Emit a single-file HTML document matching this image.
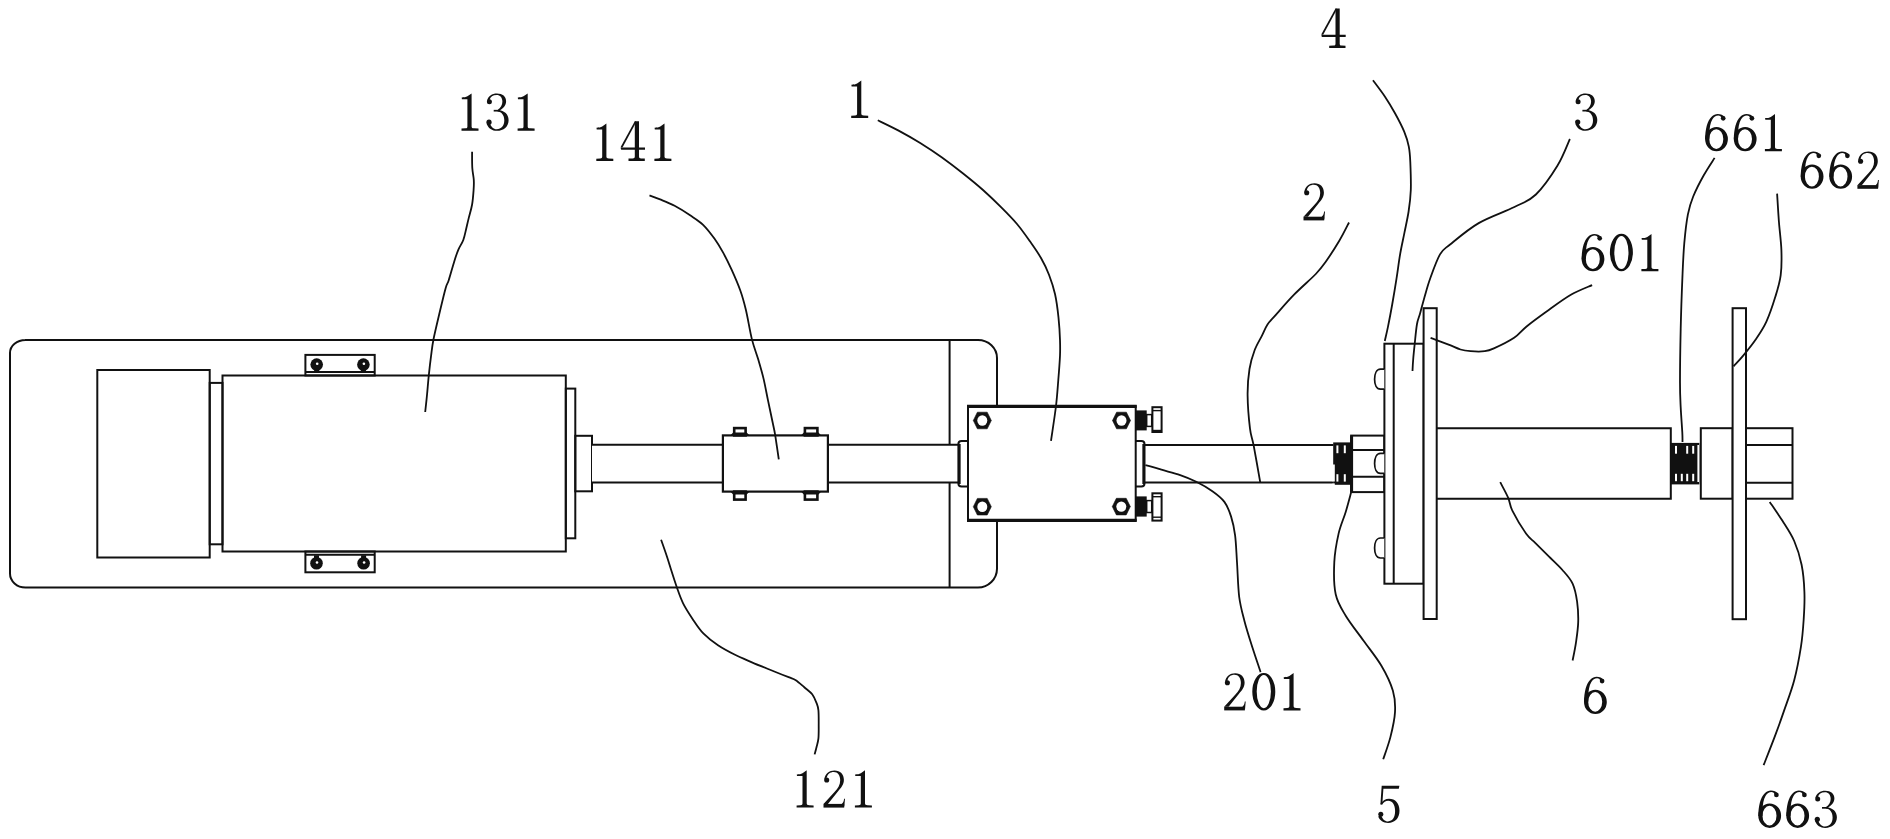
<!DOCTYPE html>
<html><head><meta charset="utf-8"><style>
html,body{margin:0;padding:0;background:#fff;overflow:hidden;width:1890px;height:839px;}
svg{display:block;} #w{width:1890px;height:839px;}
text{font-family:"Liberation Serif",serif;font-size:56px;fill:#111;stroke:#fff;stroke-width:0.6px;}
</style></head><body>
<div id="w"><svg width="1890" height="839" viewBox="0 0 1890 839">
<rect width="1890" height="839" fill="#fff"/>
<path d="M25,340 H978 A19,18 0 0 1 997,358 V568.7 A19,19 0 0 1 978,587.5 H25.5 A15.5,14 0 0 1 10,573.5 V353 A15.5,13 0 0 1 25.5,340 Z" stroke="#111" fill="none" stroke-width="2"/>
<line x1="949.6" y1="340" x2="949.6" y2="587.5" stroke="#111" stroke-width="2"/>
<rect x="97.3" y="370" width="112.4" height="187.5" stroke="#111" fill="none" stroke-width="2"/>
<rect x="209.7" y="382.9" width="12.8" height="161.4" stroke="#111" fill="none" stroke-width="2"/>
<rect x="222.5" y="375.5" width="343.3" height="176" stroke="#111" fill="none" stroke-width="2"/>
<rect x="305.4" y="354.9" width="69.3" height="20.6" stroke="#111" fill="none" stroke-width="2"/>
<line x1="305.4" y1="372" x2="374.7" y2="372" stroke="#111" stroke-width="2"/>
<rect x="305.4" y="551.5" width="69.3" height="20.8" stroke="#111" fill="none" stroke-width="2"/>
<line x1="305.4" y1="554.8" x2="374.7" y2="554.8" stroke="#111" stroke-width="2"/>
<rect x="314.2" y="368.6" width="5" height="4" fill="#111"/><circle cx="316.7" cy="364.6" r="6.3" fill="#111"/><circle cx="317.2" cy="363.8" r="1.3" fill="#fff"/>
<rect x="360.9" y="368.6" width="5" height="4" fill="#111"/><circle cx="363.4" cy="364.6" r="6.3" fill="#111"/><circle cx="363.9" cy="363.8" r="1.3" fill="#fff"/>
<rect x="314.0" y="555.3" width="5" height="4" fill="#111"/><circle cx="316.5" cy="563.3" r="6.3" fill="#111"/><circle cx="317.0" cy="562.5" r="1.3" fill="#fff"/>
<rect x="361.1" y="555.3" width="5" height="4" fill="#111"/><circle cx="363.6" cy="563.3" r="6.3" fill="#111"/><circle cx="364.1" cy="562.5" r="1.3" fill="#fff"/>
<rect x="565.8" y="388.6" width="9.5" height="149.7" stroke="#111" fill="none" stroke-width="2"/>
<rect x="575.3" y="435.8" width="16.7" height="55.5" stroke="#111" fill="none" stroke-width="2"/>
<rect x="592" y="444.8" width="366.4" height="37.7" fill="#fff"/>
<line x1="592" y1="444.8" x2="722.9" y2="444.8" stroke="#111" stroke-width="2"/>
<line x1="592" y1="482.5" x2="722.9" y2="482.5" stroke="#111" stroke-width="2"/>
<line x1="827.9" y1="444.8" x2="958.4" y2="444.8" stroke="#111" stroke-width="2"/>
<line x1="827.9" y1="482.5" x2="958.4" y2="482.5" stroke="#111" stroke-width="2"/>
<rect x="722.9" y="435.4" width="105" height="56.2" fill="#fff" stroke="#111" stroke-width="2.2"/>
<rect x="734.2" y="428.1" width="11.399999999999977" height="7.2999999999999545" fill="#fff" stroke="#111" stroke-width="2.6"/><path d="M730.2,435.4 L733.2,432.4 L746.6,432.4 L749.6,435.4 Z" fill="#111"/>
<rect x="804.9" y="428.1" width="12.5" height="7.2999999999999545" fill="#fff" stroke="#111" stroke-width="2.6"/><path d="M800.9,435.4 L803.9,432.4 L818.4,432.4 L821.4,435.4 Z" fill="#111"/>
<rect x="734.2" y="491.6" width="11.399999999999977" height="8.0" fill="#fff" stroke="#111" stroke-width="2.6"/><path d="M730.2,491.6 L733.2,494.6 L746.6,494.6 L749.6,491.6 Z" fill="#111"/>
<rect x="804.9" y="491.6" width="12.5" height="8.0" fill="#fff" stroke="#111" stroke-width="2.6"/><path d="M800.9,491.6 L803.9,494.6 L818.4,494.6 L821.4,491.6 Z" fill="#111"/>
<path d="M968,441 H961.5 Q958.4,441 958.4,444 V483.5 Q958.4,486.5 961.5,486.5 H968" fill="#fff" stroke="#111" stroke-width="2"/>
<line x1="959.4" y1="444" x2="959.4" y2="484" stroke="#111" stroke-width="2.5"/>
<path d="M1135.7,441 H1141.4 Q1144.5,441 1144.5,444 V483.5 Q1144.5,486.5 1141.4,486.5 H1135.7" fill="#fff" stroke="#111" stroke-width="2"/>
<line x1="1143.6" y1="444" x2="1143.6" y2="484" stroke="#111" stroke-width="2.5"/>
<rect x="968" y="406.2" width="167.7" height="114.3" fill="#fff" stroke="#111" stroke-width="2"/>
<line x1="967" y1="406.4" x2="1136.7" y2="406.4" stroke="#111" stroke-width="3.2"/>
<line x1="967" y1="520.3" x2="1136.7" y2="520.3" stroke="#111" stroke-width="3.2"/>
<polygon points="991.3,420.5 987.2,412.2 977.4,412.2 973.3,420.5 977.4,428.8 987.2,428.8" fill="#111" stroke="#111" stroke-width="0.6" stroke-linejoin="round"/><ellipse cx="982.3" cy="420.5" rx="5.0" ry="5.2" fill="#fff"/>
<polygon points="1130.5,420.5 1126.4,412.2 1116.6,412.2 1112.5,420.5 1116.6,428.8 1126.4,428.8" fill="#111" stroke="#111" stroke-width="0.6" stroke-linejoin="round"/><ellipse cx="1121.5" cy="420.5" rx="5.0" ry="5.2" fill="#fff"/>
<polygon points="991.3,506.7 987.2,498.4 977.4,498.4 973.3,506.7 977.4,515.0 987.2,515.0" fill="#111" stroke="#111" stroke-width="0.6" stroke-linejoin="round"/><ellipse cx="982.3" cy="506.7" rx="5.0" ry="5.2" fill="#fff"/>
<polygon points="1130.3,506.6 1126.2,498.3 1116.4,498.3 1112.3,506.6 1116.4,514.9 1126.2,514.9" fill="#111" stroke="#111" stroke-width="0.6" stroke-linejoin="round"/><ellipse cx="1121.3" cy="506.6" rx="5.0" ry="5.2" fill="#fff"/>
<rect x="1135.5" y="410.4" width="11.2" height="20.0" fill="#111"/>
<rect x="1146.7" y="414.6" width="5" height="11.799999999999955" fill="#fff" stroke="#111" stroke-width="1.5"/>
<rect x="1152.4" y="407.2" width="9.2" height="24.80000000000001" fill="#fff" stroke="#111" stroke-width="2"/>
<line x1="1152.4" y1="410.59999999999997" x2="1161.6" y2="410.59999999999997" stroke="#111" stroke-width="1.4"/>
<line x1="1152.4" y1="431.0" x2="1161.6" y2="431.0" stroke="#111" stroke-width="2.4"/>
<rect x="1135.5" y="496.4" width="11.2" height="20.200000000000045" fill="#111"/>
<rect x="1146.7" y="500.6" width="5" height="11.899999999999977" fill="#fff" stroke="#111" stroke-width="1.5"/>
<rect x="1152.4" y="493.3" width="9.2" height="27.30000000000001" fill="#fff" stroke="#111" stroke-width="2"/>
<line x1="1152.4" y1="496.7" x2="1161.6" y2="496.7" stroke="#111" stroke-width="1.4"/>
<line x1="1152.4" y1="517.2" x2="1161.6" y2="517.2" stroke="#111" stroke-width="1.4"/>
<line x1="1144.5" y1="445" x2="1333.4" y2="445" stroke="#111" stroke-width="2"/>
<line x1="1144.5" y1="482.4" x2="1333.4" y2="482.4" stroke="#111" stroke-width="2"/>
<rect x="1333.2" y="442.4" width="17.799999999999955" height="42.400000000000034" fill="#111"/><rect x="1336.4" y="445.4" width="2" height="7.8" fill="#fff"/><rect x="1343.8" y="445.4" width="2" height="7.8" fill="#fff"/><rect x="1336.4" y="474.20000000000005" width="2" height="7.4" fill="#fff"/><rect x="1343.8" y="474.20000000000005" width="2" height="7.4" fill="#fff"/>
<rect x="1332.6" y="464.5" width="2.2" height="17.0" fill="#fff"/>
<rect x="1332.6" y="483.4" width="2.2" height="2.0" fill="#fff"/>
<rect x="1351.1" y="435.6" width="33.2" height="56.5" fill="#fff" stroke="#111" stroke-width="2"/>
<line x1="1351.6" y1="436" x2="1351.6" y2="492" stroke="#111" stroke-width="3"/>
<line x1="1351.1" y1="450.1" x2="1384.3" y2="450.1" stroke="#111" stroke-width="2"/>
<line x1="1351.1" y1="476.8" x2="1384.3" y2="476.8" stroke="#111" stroke-width="2"/>
<rect x="1384.4" y="343.7" width="39.2" height="240" fill="#fff" stroke="#111" stroke-width="2"/>
<line x1="1393.7" y1="343.9" x2="1393.7" y2="583.7" stroke="#111" stroke-width="2"/>
<path d="M1384.3,369.2 H1380.5 C1376.3,369.2 1374.6,374.2 1374.6,379.2 C1374.6,384.2 1376.3,389.2 1380.5,389.2 H1384.3" fill="#fff" stroke="#111" stroke-width="1.7"/>
<path d="M1384.3,453.4 H1380.5 C1376.3,453.4 1374.6,458.4 1374.6,463.4 C1374.6,468.4 1376.3,473.4 1380.5,473.4 H1384.3" fill="#fff" stroke="#111" stroke-width="1.7"/>
<path d="M1384.3,538 H1380.5 C1376.3,538 1374.6,543 1374.6,548 C1374.6,553 1376.3,558 1380.5,558 H1384.3" fill="#fff" stroke="#111" stroke-width="1.7"/>
<rect x="1423.6" y="308.2" width="13.1" height="310.8" fill="#fff" stroke="#111" stroke-width="2"/>
<path d="M1437,428.2 H1670.8 V498.7 H1437" fill="none" stroke="#111" stroke-width="2"/>
<rect x="1670.8" y="442.9" width="28.600000000000136" height="41.5" fill="#111"/><rect x="1675" y="445.9" width="2" height="7.8" fill="#fff"/><rect x="1686.2" y="445.9" width="2" height="7.8" fill="#fff"/><rect x="1692.2" y="445.9" width="2" height="7.8" fill="#fff"/><rect x="1675" y="473.8" width="2" height="7.4" fill="#fff"/><rect x="1680.8" y="473.8" width="2" height="7.4" fill="#fff"/><rect x="1686.2" y="473.8" width="2" height="7.4" fill="#fff"/><rect x="1692.2" y="473.8" width="2" height="7.4" fill="#fff"/>
<rect x="1697.4" y="445" width="1.6" height="37" fill="#fff"/>
<rect x="1700.8" y="428.2" width="31.8" height="70.5" fill="#fff" stroke="#111" stroke-width="2"/>
<rect x="1732.6" y="308.2" width="13.4" height="311" fill="#fff" stroke="#111" stroke-width="2"/>
<rect x="1746" y="428.2" width="46.5" height="70.5" fill="#fff" stroke="#111" stroke-width="2"/>
<line x1="1746" y1="445.1" x2="1792.5" y2="445.1" stroke="#111" stroke-width="2"/>
<line x1="1746" y1="482.7" x2="1792.5" y2="482.7" stroke="#111" stroke-width="2"/>
<path d="M472.1,151.8 C472.1,154.5 472.0,163.3 472.3,168.0 C472.6,172.7 473.6,176.3 473.8,180.0 C474.0,183.7 473.9,185.9 473.6,190.0 C473.3,194.1 472.9,199.9 472.1,204.5 C471.3,209.1 469.9,213.4 468.9,217.4 C467.9,221.4 467.1,224.9 466.2,228.7 C465.3,232.5 464.6,236.5 463.3,240.0 C462.0,243.5 459.9,246.1 458.4,249.6 C456.9,253.1 456.0,255.8 454.4,260.9 C452.8,266.0 450.2,275.5 448.8,280.0 C447.4,284.5 447.1,283.0 445.7,287.9 C444.3,292.8 442.4,300.8 440.4,309.3 C438.4,317.8 435.2,331.1 433.6,338.8 C432.1,346.5 431.9,349.6 431.1,355.7 C430.3,361.8 429.5,368.8 428.8,375.4 C428.1,381.9 427.6,388.9 427.0,395.0 C426.4,401.1 425.5,409.2 425.2,412.0" fill="none" stroke="#111" stroke-width="1.8"/>
<path d="M649.5,195.4 C651.4,196.1 656.6,198.0 660.8,199.7 C665.0,201.4 669.7,203.2 674.6,205.8 C679.5,208.4 685.4,212.1 690.1,215.3 C694.9,218.5 699.1,220.9 703.1,224.8 C707.1,228.7 711.1,234.0 714.4,238.6 C717.7,243.2 720.1,247.2 723.0,252.4 C725.9,257.6 728.7,263.3 731.6,269.7 C734.5,276.1 737.9,283.9 740.3,290.5 C742.7,297.1 743.8,301.3 745.8,309.5 C747.8,317.7 749.9,331.3 752.0,339.6 C754.1,347.9 756.3,352.8 758.2,359.3 C760.1,365.9 762.0,372.0 763.6,378.9 C765.2,385.8 766.5,393.2 768.0,400.4 C769.5,407.5 771.3,416.0 772.5,421.8 C773.7,427.6 774.2,428.9 775.2,435.2 C776.2,441.4 778.2,455.3 778.8,459.3" fill="none" stroke="#111" stroke-width="1.8"/>
<path d="M661.1,539.8 C662.1,542.6 665.3,551.6 667.0,556.8 C668.7,562.0 669.9,566.0 671.5,571.1 C673.1,576.2 674.9,581.8 676.8,587.2 C678.7,592.6 680.4,597.9 683.1,603.3 C685.8,608.7 689.5,614.3 692.9,619.4 C696.3,624.5 699.4,629.4 703.6,633.7 C707.8,638.0 712.9,641.9 718.0,645.3 C723.1,648.7 728.4,651.5 734.0,654.3 C739.6,657.1 745.2,659.4 751.9,662.3 C758.6,665.2 768.2,669.0 774.3,671.5 C780.4,674.0 785.0,675.8 788.6,677.2 C792.2,678.7 793.2,678.5 795.8,680.2 C798.4,681.9 801.6,684.9 804.3,687.2 C807.0,689.6 810.2,691.7 812.2,694.3 C814.2,696.9 815.5,700.3 816.5,702.9 C817.5,705.5 818.0,706.3 818.4,710.1 C818.8,713.9 818.7,721.0 818.7,725.8 C818.7,730.6 818.8,735.1 818.4,738.7 C818.0,742.3 817.1,744.7 816.5,747.3 C815.9,749.9 814.9,753.2 814.6,754.4" fill="none" stroke="#111" stroke-width="1.8"/>
<path d="M877.8,120.3 C881.3,122.0 891.5,126.8 898.6,130.6 C905.7,134.4 913.0,138.5 920.2,143.0 C927.4,147.5 934.9,152.4 942.0,157.5 C949.1,162.6 956.3,168.1 963.1,173.5 C969.9,178.9 976.6,184.3 983.0,190.0 C989.4,195.7 995.6,201.7 1001.3,207.4 C1007.0,213.1 1012.2,218.3 1017.0,224.0 C1021.8,229.7 1025.9,235.6 1029.9,241.3 C1033.9,247.0 1037.8,252.4 1041.0,258.0 C1044.2,263.6 1046.7,268.7 1049.0,274.7 C1051.3,280.7 1053.4,286.9 1055.0,294.0 C1056.6,301.1 1057.7,309.9 1058.5,317.6 C1059.3,325.3 1059.8,333.6 1060.0,340.0 C1060.2,346.4 1060.3,349.1 1060.0,355.8 C1059.7,362.5 1059.0,371.6 1058.3,380.0 C1057.6,388.4 1057.2,395.9 1056.0,406.0 C1054.8,416.1 1051.8,435.0 1051.0,440.8" fill="none" stroke="#111" stroke-width="1.8"/>
<path d="M1349.0,222.5 C1347.4,225.6 1343.2,234.2 1339.3,240.8 C1335.4,247.4 1329.3,256.7 1325.4,262.2 C1321.5,267.7 1321.0,268.6 1315.8,274.0 C1310.6,279.4 1301.3,287.2 1294.3,294.4 C1287.3,301.5 1278.5,311.9 1274.0,316.9 C1269.5,321.9 1269.5,321.4 1267.5,324.4 C1265.5,327.4 1264.3,330.8 1262.2,335.1 C1260.1,339.4 1256.8,344.4 1254.7,350.0 C1252.6,355.6 1250.7,361.5 1249.5,369.0 C1248.3,376.5 1247.5,385.3 1247.6,395.2 C1247.7,405.1 1249.0,420.3 1250.0,428.6 C1251.0,436.9 1251.9,436.3 1253.6,445.2 C1255.3,454.1 1259.1,476.0 1260.2,482.1" fill="none" stroke="#111" stroke-width="1.8"/>
<path d="M1145.4,465.2 C1148.1,465.9 1155.6,468.0 1161.4,469.7 C1167.2,471.4 1174.4,473.1 1180.2,475.1 C1186.0,477.1 1190.9,479.1 1196.3,481.8 C1201.7,484.5 1207.7,487.9 1212.4,491.2 C1217.1,494.5 1221.3,497.7 1224.4,501.9 C1227.5,506.1 1229.3,511.0 1231.1,516.6 C1232.9,522.2 1234.1,527.8 1235.1,535.4 C1236.1,543.0 1236.3,551.9 1237.0,562.2 C1237.7,572.5 1238.0,587.2 1239.2,597.0 C1240.5,606.8 1242.3,612.7 1244.5,621.2 C1246.7,629.7 1249.9,639.5 1252.6,648.0 C1255.3,656.5 1259.3,668.1 1260.6,672.1" fill="none" stroke="#111" stroke-width="1.8"/>
<path d="M1373.0,80.3 C1375.0,83.0 1381.3,91.2 1385.0,96.7 C1388.7,102.2 1391.8,107.5 1395.0,113.3 C1398.2,119.1 1401.9,126.1 1404.2,131.7 C1406.5,137.3 1407.8,141.6 1408.8,146.7 C1409.8,151.8 1410.0,154.8 1410.3,162.0 C1410.6,169.2 1411.1,181.8 1410.8,190.0 C1410.5,198.2 1409.7,204.3 1408.6,211.5 C1407.5,218.7 1405.8,225.8 1404.4,232.9 C1403.0,240.1 1401.4,246.8 1400.1,254.4 C1398.8,262.0 1397.8,270.3 1396.5,278.7 C1395.2,287.1 1393.6,296.6 1392.2,304.5 C1390.8,312.4 1389.3,320.1 1388.1,326.2 C1386.9,332.3 1385.3,338.5 1384.8,341.0" fill="none" stroke="#111" stroke-width="1.8"/>
<path d="M1569.9,139.0 C1567.8,143.5 1563.1,156.6 1557.4,165.8 C1551.7,175.1 1543.1,187.6 1535.9,194.5 C1528.7,201.4 1523.9,202.2 1514.4,207.0 C1504.9,211.8 1489.4,216.8 1478.7,223.1 C1468.0,229.3 1456.5,239.3 1450.1,244.5 C1443.6,249.7 1443.3,248.7 1440.0,254.4 C1436.7,260.1 1432.7,271.5 1430.1,278.7 C1427.5,285.9 1426.1,291.7 1424.4,297.4 C1422.8,303.1 1421.4,308.7 1420.2,313.1 C1419.0,317.5 1417.9,319.0 1417.0,324.0 C1416.1,329.0 1415.4,337.3 1414.8,343.0 C1414.2,348.7 1413.7,353.3 1413.3,358.0 C1412.9,362.7 1412.6,368.8 1412.5,371.0" fill="none" stroke="#111" stroke-width="1.8"/>
<path d="M1430.6,337.8 C1431.7,338.2 1434.1,339.1 1437.2,340.3 C1440.3,341.5 1445.4,343.4 1449.3,344.9 C1453.2,346.4 1457.0,348.4 1460.5,349.5 C1464.0,350.6 1466.5,350.9 1470.6,351.2 C1474.6,351.5 1480.9,351.7 1484.8,351.2 C1488.7,350.7 1489.0,350.6 1493.9,348.4 C1498.8,346.2 1508.7,341.4 1514.1,337.8 C1519.5,334.2 1520.9,331.1 1526.3,326.7 C1531.7,322.3 1539.2,316.8 1546.6,311.5 C1554.0,306.2 1563.3,299.2 1570.9,294.8 C1578.5,290.4 1588.6,286.7 1592.1,285.1" fill="none" stroke="#111" stroke-width="1.8"/>
<path d="M1714.6,157.9 C1712.8,160.8 1707.5,168.6 1703.9,175.0 C1700.3,181.4 1695.9,189.9 1693.2,196.5 C1690.5,203.1 1689.4,206.7 1687.9,214.4 C1686.4,222.2 1685.2,232.9 1684.3,243.0 C1683.4,253.1 1683.1,260.8 1682.5,275.1 C1681.9,289.4 1681.1,310.9 1680.7,328.8 C1680.3,346.7 1680.0,369.3 1680.0,382.4 C1680.0,395.5 1680.3,399.1 1680.7,407.4 C1681.1,415.7 1682.0,426.6 1682.3,432.4 C1682.6,438.2 1682.5,440.4 1682.5,442.0" fill="none" stroke="#111" stroke-width="1.8"/>
<path d="M1777.1,193.6 C1777.4,198.2 1778.2,212.1 1778.9,221.5 C1779.6,230.9 1781.1,241.2 1781.4,250.1 C1781.7,259.0 1781.7,267.4 1780.7,275.1 C1779.7,282.9 1777.8,288.9 1775.4,296.6 C1773.0,304.4 1769.7,314.5 1766.4,321.6 C1763.1,328.8 1759.6,333.8 1755.7,339.5 C1751.8,345.2 1746.9,351.1 1743.2,355.6 C1739.5,360.1 1735.2,364.5 1733.6,366.3" fill="none" stroke="#111" stroke-width="1.8"/>
<path d="M1351.1,492.5 C1350.2,495.8 1347.8,505.1 1345.7,512.0 C1343.6,518.9 1340.5,525.2 1338.6,533.6 C1336.7,542.0 1334.8,552.0 1334.3,562.1 C1333.8,572.2 1333.8,585.4 1335.7,594.3 C1337.6,603.2 1341.1,608.0 1345.7,615.7 C1350.3,623.4 1357.6,632.4 1363.6,640.7 C1369.5,649.0 1376.5,657.4 1381.4,665.7 C1386.3,674.0 1390.6,683.0 1392.9,690.7 C1395.2,698.4 1395.4,704.4 1395.0,712.1 C1394.6,719.8 1392.4,729.2 1390.4,737.1 C1388.4,745.0 1384.4,755.6 1383.2,759.3" fill="none" stroke="#111" stroke-width="1.8"/>
<path d="M1500.2,482.2 C1501.5,484.8 1506.0,492.8 1508.1,497.6 C1510.2,502.4 1509.6,505.2 1512.6,511.2 C1515.6,517.2 1522.4,528.5 1526.2,533.8 C1530.0,539.1 1531.4,539.1 1535.2,542.9 C1539.0,546.7 1544.3,551.9 1548.8,556.4 C1553.3,560.9 1558.4,565.5 1562.4,570.0 C1566.4,574.5 1570.1,578.3 1572.6,583.6 C1575.0,588.9 1576.2,595.3 1577.1,601.7 C1578.0,608.1 1578.4,615.3 1578.2,622.1 C1578.0,628.9 1576.9,636.0 1576.0,642.4 C1575.1,648.8 1573.2,657.5 1572.6,660.5" fill="none" stroke="#111" stroke-width="1.8"/>
<path d="M1769.7,501.9 C1771.8,505.0 1778.2,514.1 1782.3,520.6 C1786.4,527.1 1791.0,533.6 1794.2,541.0 C1797.4,548.4 1799.9,556.3 1801.6,564.8 C1803.3,573.3 1804.1,582.8 1804.4,591.9 C1804.8,601.0 1804.3,610.0 1803.7,619.1 C1803.1,628.2 1802.6,636.1 1801.0,646.3 C1799.4,656.5 1797.0,669.5 1794.2,680.3 C1791.4,691.1 1787.1,701.8 1784.0,710.9 C1780.9,720.0 1778.9,725.5 1775.5,734.6 C1772.1,743.7 1765.6,760.1 1763.6,765.2" fill="none" stroke="#111" stroke-width="1.8"/>
<defs><g id="d1"><path d="M5.9,-34.4 L10.1,-37.3 L10.1,-4.3 C10.1,-3 10.8,-2.5 12.6,-2.4 L17,-2.2 L17,0 L0,0 L0,-2.2 L3.9,-2.4 C5.4,-2.5 5.9,-3 5.9,-4.3 L5.9,-31.5 L0.4,-31.5 L0.2,-33.2 C2.6,-33.3 4.4,-33.5 5.9,-34.4 Z"/></g><g id="d4"><path d="M14.1,-39.6 L18.3,-39.6 L18.3,-4.4 C18.3,-3 18.9,-2.6 20.4,-2.5 L24.1,-2.3 L24.1,0 L7.8,0 L7.8,-2.3 L11.9,-2.5 C13.5,-2.6 14.1,-3 14.1,-4.4 Z"/><path d="M14.1,-39.6 L15.2,-39.6 L14.1,-36.2 L1.8,-13.3 L0.1,-13.3 L0.1,-14.1 Z"/><path d="M0.1,-13.3 L24.3,-13.3 L24.3,-11.1 L0.6,-11.1 L0.1,-11.8 Z"/></g><g id="d0"><path fill-rule="evenodd" d="M11.5,-37.5 A11.5,18.75 0 1 0 11.5,0 A11.5,18.75 0 1 0 11.5,-37.5 Z M11.5,-35.4 A7.1,16.6 0 1 1 11.5,-2.2 A7.1,16.6 0 1 1 11.5,-35.4 Z"/></g><g id="d6"><path fill-rule="evenodd" d="M11.4,-24.4 A11.4,12.2 0 1 0 11.4,0 A11.4,12.2 0 1 0 11.4,-24.4 Z M11.2,-22.1 A7.0,9.85 0 1 1 11.2,-2.4 A7.0,9.85 0 1 1 11.2,-22.1 Z"/><path d="M0.05,-12 C0.05,-22 2.2,-30.5 6.5,-34.6 C8.4,-36.4 10.4,-37.4 12.6,-37.4 C15.6,-37.4 18.0,-36.6 19.6,-34.2 L16.4,-33.6 C15.6,-35.1 14.6,-35.8 13.2,-35.8 C10.8,-35.8 8.7,-34.4 7.2,-31.8 C5.3,-28.6 4.3,-23.5 4.2,-16.5 L4.2,-12 Z"/><circle cx="18.1" cy="-33.0" r="2.35"/></g><g id="d2"><path d="M0.8,-28.4 C1.6,-34.2 5.8,-37.2 11,-37.2 C16.8,-37.2 20.4,-33.4 20.4,-27.8 C20.4,-23.2 17.9,-19.9 14.6,-16.4 L4.4,-3.6 L0,-3.6 L11.0,-15.6 C14.6,-19.4 16.7,-22.8 16.7,-27.4 C16.7,-32.4 14.2,-35.7 10.3,-35.7 C6.6,-35.7 3.9,-33.6 3.3,-30.0 Z"/><path d="M0,-3.7 L20.7,-3.7 L20.7,0 L0,0 Z"/><path d="M18.2,-3.6 C19.6,-4.6 20.3,-6.6 20.6,-8.9 L21.5,-8.9 L20.8,-1 Z"/><circle cx="3.2" cy="-27.6" r="2.55"/></g><g id="d3"><path d="M0.7,-29.8 C1.6,-34.6 5.8,-37.2 10.6,-37.2 C16.3,-37.2 19.8,-34.2 19.8,-29.6 C19.8,-25.2 16.9,-22.3 13.3,-20.4 L11.4,-21.0 C14.3,-22.8 16.1,-25.6 16.1,-29.2 C16.1,-33 13.8,-35.7 10.3,-35.7 C6.6,-35.7 4.0,-33.8 3.4,-31.0 Z"/><path d="M7.4,-20.9 L13.6,-20.9 L13.6,-19.2 L7.4,-19.2 Z"/><path d="M11.5,-20.7 C18.4,-20.3 22.3,-16.2 22.3,-10.6 C22.3,-4.2 17.4,0 10.6,0 C5.8,0 2.2,-2.2 0.4,-6.8 L3.4,-8.0 C4.6,-3.9 7.2,-1.5 10.4,-1.5 C15,-1.5 18.0,-5 18.0,-10.4 C18.0,-15.6 15.4,-18.9 11.2,-19.3 Z"/><circle cx="3.1" cy="-28.9" r="2.5"/><circle cx="2.7" cy="-8.6" r="2.6"/></g><g id="d5"><path d="M3.9,-37.2 L21.6,-37.2 L21.0,-34.1 L5.6,-34.1 L4.5,-18.5 L2.6,-18.5 Z"/><path d="M2.6,-19.0 C4.8,-22.3 8,-24.1 11.2,-24.1 C17.6,-24.1 21.7,-19.6 21.7,-12.2 C21.7,-4.6 16.9,0 10.3,0 C5.6,0 2,-2.4 0.4,-6.4 L3.3,-8.0 C4.6,-3.6 7.3,-1.5 10.2,-1.5 C14.8,-1.5 17.3,-5.6 17.3,-11.8 C17.3,-18.2 14.5,-22.2 10.4,-22.2 C7.8,-22.2 5.8,-20.8 4.3,-18.4 Z"/><circle cx="3.0" cy="-8.6" r="2.5"/></g></defs>
<g fill="#111">
<use href="#d1" x="461.5" y="130.75"/>
<use href="#d3" x="486.3" y="130.75"/>
<use href="#d1" x="517.6" y="130.75"/>
<use href="#d1" x="596.3" y="160.9"/>
<use href="#d4" x="620.7" y="160.9"/>
<use href="#d1" x="654.4" y="160.9"/>
<use href="#d1" x="851.2" y="117.9"/>
<use href="#d4" x="1321.4" y="48.1"/>
<use href="#d2" x="1303.5" y="220.4"/>
<use href="#d3" x="1575" y="130.7"/>
<use href="#d6" x="1581.6" y="271.3"/>
<use href="#d0" x="1609.9" y="271.3"/>
<use href="#d1" x="1641.4" y="271.3"/>
<use href="#d6" x="1705.1" y="151.3"/>
<use href="#d6" x="1733.8" y="151.3"/>
<use href="#d1" x="1764.9" y="151.3"/>
<use href="#d6" x="1800.7" y="188.8"/>
<use href="#d6" x="1829.3" y="188.8"/>
<use href="#d2" x="1857.4" y="188.8"/>
<use href="#d2" x="1224.2" y="710.4"/>
<use href="#d0" x="1252.3" y="710.4"/>
<use href="#d1" x="1283.5" y="710.4"/>
<use href="#d1" x="796.6" y="807.6"/>
<use href="#d2" x="823.5" y="807.6"/>
<use href="#d1" x="854.9" y="807.6"/>
<use href="#d5" x="1377.8" y="822.9"/>
<use href="#d6" x="1584" y="714.1"/>
<use href="#d6" x="1758.3" y="827.9"/>
<use href="#d6" x="1786.3" y="827.9"/>
<use href="#d3" x="1814.6" y="827.9"/>
</g>
</svg></div>
</body></html>
